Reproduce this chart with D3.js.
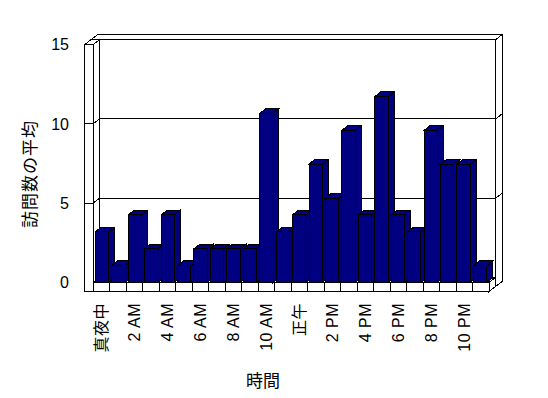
<!DOCTYPE html>
<html><head><meta charset="utf-8">
<script src="https://cdn.jsdelivr.net/npm/d3@7"></script>
<style>body{margin:0;background:#fff}svg{display:block}</style>
</head><body>
<svg id="c" width="548" height="398"></svg>
<script>
const categories = ["真夜中","1 AM","2 AM","3 AM","4 AM","5 AM","6 AM","7 AM","8 AM","9 AM","10 AM","11 AM",
  "正午","1 PM","2 PM","3 PM","4 PM","5 PM","6 PM","7 PM","8 PM","9 PM","10 PM","11 PM"];
const values = [3.2,1.07,4.27,2.13,4.27,1.07,2.13,2.13,2.13,2.13,10.67,3.2,
  4.27,7.47,5.33,9.6,4.27,11.73,4.27,3.2,9.6,7.47,7.47,1.07];
const tickLabels = ["真夜中","2 AM","4 AM","6 AM","8 AM","10 AM","正午","2 PM","4 PM","6 PM","8 PM","10 PM"];
const yTicks = [0,5,10,15];
const yTitle = "訪問数の平均";
const xTitle = "時間";

const FONT = "'Liberation Sans','Noto Sans CJK JP',sans-serif";
const NAVY = "#000080";
const X0 = 93, X1 = 489, YB = 282.5, YT = 44.7, WALL = 8.5, FLOOR = 9, DX = 6.5, DY = -5;
const BD = 0.92;

const svg = d3.select("#c").attr("shape-rendering","crispEdges");
const y = d3.scaleLinear().domain([0,15]).range([YB, YT]);
const xCell = d3.scaleBand().domain(categories).range([X0, X1]).padding(0);
const x = d3.scaleBand().domain(categories).range([X0, X1]).paddingInner(0.19).paddingOuter(0.14);

const poly = pts => "M" + pts.map(p => p.join(",")).join("L") + "Z";
const face = (pts, fill) => svg.append("path").attr("d", poly(pts))
  .attr("fill", fill).attr("stroke", "#000").attr("stroke-width", 1);

// back wall
face([[X0-WALL+DX, YT+DY],[X1+DX, YT+DY],[X1+2*DX, YT+2*DY],[X0-WALL+2*DX, YT+2*DY]], "#fff");
face([[X0+DX, YT+DY],[X1+DX, YT+DY],[X1+DX, YB+DY],[X0+DX, YB+DY]], "#fff");
face([[X1+DX, YT+DY],[X1+2*DX, YT+2*DY],[X1+2*DX, YB+FLOOR+2*DY],[X1+DX, YB+FLOOR+DY]], "#fff");
// floor
face([[X0, YB],[X1, YB],[X1+DX, YB+DY],[X0+DX, YB+DY]], "#fff");
face([[X0-WALL, YB],[X1, YB],[X1, YB+FLOOR],[X0-WALL, YB+FLOOR]], "#fff");
face([[X1, YB],[X1+DX, YB+DY],[X1+DX, YB+FLOOR+DY],[X1, YB+FLOOR]], "#fff");
// left wall
face([[X0, YB],[X0, YT],[X0+DX, YT+DY],[X0+DX, YB+DY]], "#fff");
face([[X0-WALL, YT],[X0, YT],[X0, YB+FLOOR],[X0-WALL, YB+FLOOR]], "#fff");
face([[X0-WALL, YT],[X0, YT],[X0+DX, YT+DY],[X0-WALL+DX, YT+DY]], "#fff");

// gridlines / ticks
yTicks.filter(v => v > 0 && v < 15).forEach(v => {
  const yy = y(v);
  svg.append("path").attr("fill","none").attr("stroke","#000")
    .attr("d", `M${X0-WALL},${yy}L${X0},${yy}L${X0+DX},${yy+DY}L${X1+DX},${yy+DY}L${X1+2*DX},${yy+2*DY}`);
});

// floor cell dividers
categories.forEach((c, i) => {
  if (i === 0) return;
  const xx = xCell(c);
  svg.append("line").attr("x1", xx).attr("x2", xx).attr("y1", YB).attr("y2", YB+FLOOR).attr("stroke","#000");
});

// bars
const bw = x.bandwidth(), bdx = DX*BD, bdy = DY*BD;
categories.forEach((c, i) => {
  const xl = x(c), yt = y(values[i]);
  face([[xl, yt],[xl+bw, yt],[xl+bw, YB],[xl, YB]], NAVY);
  face([[xl+bw, yt],[xl+bw+bdx, yt+bdy],[xl+bw+bdx, YB+bdy],[xl+bw, YB]], NAVY);
  face([[xl, yt],[xl+bw, yt],[xl+bw+bdx, yt+bdy],[xl+bdx, yt+bdy]], NAVY);
});

// y axis labels
const yAxis = d3.axisLeft(y).tickValues(yTicks).tickSize(0).tickPadding(0);
const gy = svg.append("g").attr("transform", `translate(69,0)`).call(yAxis);
gy.select(".domain").remove();
gy.selectAll("text").attr("font-family", FONT).attr("font-size", 16).attr("fill","#000").attr("x", 0);

// x axis labels
const shown = categories.filter((c, i) => i % 2 === 0);
const xAxis = d3.axisBottom(xCell).tickValues(shown).tickSize(0)
  .tickFormat(c => tickLabels[shown.indexOf(c)]);
const gx = svg.append("g").attr("transform", `translate(0,303)`).call(xAxis);
gx.select(".domain").remove();
gx.selectAll("text").attr("font-family", FONT).attr("font-size", 16).attr("fill","#000")
  .attr("letter-spacing", "0.5px")
  .attr("y", 0).attr("dy", "0.35em").attr("text-anchor", "end")
  .attr("transform", "rotate(-90)");

// titles
svg.append("text").attr("transform", "translate(30,174) rotate(-90)")
  .attr("text-anchor","middle").attr("dy","0.35em").attr("letter-spacing","1px")
  .attr("font-family", FONT).attr("font-size", 17).text(yTitle);
svg.append("text").attr("x", 263).attr("y", 381).attr("dy","0.35em")
  .attr("text-anchor","middle").attr("font-family", FONT).attr("font-size", 17).text(xTitle);
</script>
</body></html>
